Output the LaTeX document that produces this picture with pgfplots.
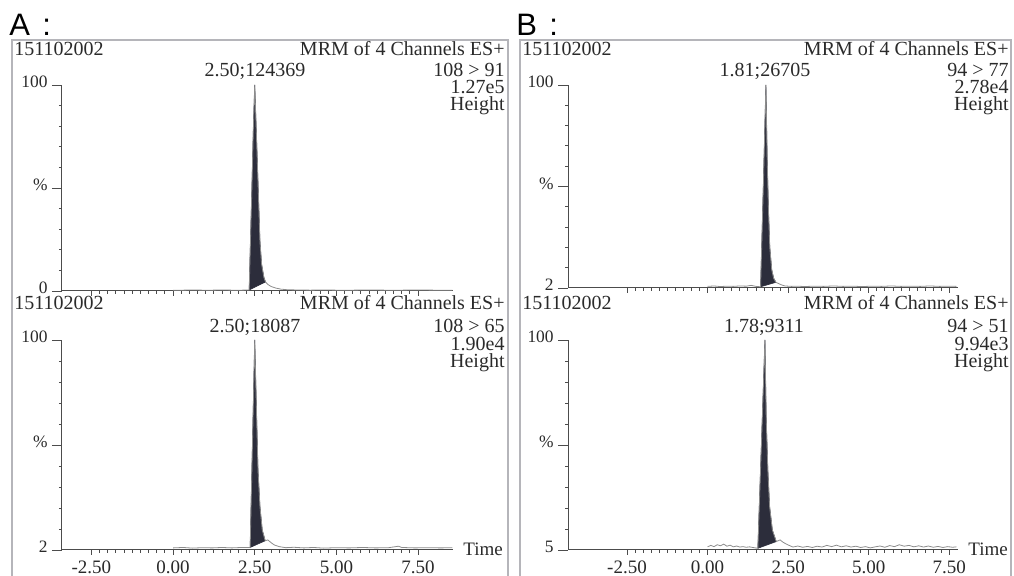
\documentclass[border=0pt]{standalone}
\usepackage{pgfplots}
\pgfplotsset{compat=1.18}
\usepackage{fontspec}
\setmainfont{Liberation Serif}
\newfontfamily\sansf{Liberation Sans}
\definecolor{peak}{HTML}{2C2D3B}
\definecolor{trace}{HTML}{8C8C8C}
\definecolor{txt}{HTML}{2A2A2A}
\definecolor{framec}{HTML}{B5B5BA}
\pgfplotsset{chrom/.style={
  scale only axis, clip=false,
  axis x line*=bottom, axis y line*=left,
  axis line style={-, black!70, line width=0.5pt},
  every tick/.style={black!70, line width=0.4pt},
  tick align=outside,
  major tick length=2.5pt, minor tick length=1.5pt,
  xtick={-2.5,0,2.5,5,7.5}, minor x tick num=9,
  ytick={0,50,100}, yticklabels={}, minor y tick num=4,
  extra y ticks={0,50,100},
  extra y tick style={major tick length=5pt},
  ymin=0, ymax=100,
  xticklabel style={font=\fontsize{9.5}{11}\selectfont, text=txt, inner sep=2.5pt},
  yticklabel style={font=\fontsize{8.7}{10}\selectfont, text=txt, inner sep=2pt, yshift=1.5pt},
}}
\newcommand\tf{\fontsize{10}{12}\selectfont}
\begin{document}
\begin{tikzpicture}
\useasboundingbox (0,0) rectangle (507pt,-288pt);
% ---------- A top ----------
\begin{axis}[chrom, at={(31pt,-145.5pt)}, anchor=south west,
  width=195.5pt, height=103pt, xmin=-3.4, xmax=8.57,
  xticklabels={}, extra y tick labels={0,\%,100}]
\addplot[fill=peak, draw=peak, line width=0.3pt] coordinates {(2.33,0.5)(2.41,48)(2.46,80)(2.50,100)(2.56,72)(2.61,48)(2.66,24)(2.71,13)(2.78,6.6)(2.83,4.4)} -- cycle;
\addplot[trace, line width=0.4pt] coordinates {(0.00,0.4)(0.3,0.4)(0.6,0.5)(0.9,0.4)(1.2,0.4)(1.5,0.5)(1.8,0.4)(2.1,0.4)(2.33,0.5)(2.41,48)(2.46,80)(2.50,100)(2.56,72)(2.61,48)(2.66,24)(2.71,13)(2.78,6.6)(2.83,4.4)(2.9,3.2)(3.0,2.2)(3.15,1.4)(3.3,0.9)(3.5,0.6)(3.8,0.5)(4.2,0.4)(4.6,0.5)(5.0,0.4)(5.5,0.4)(6.0,0.5)(6.5,0.4)(7.0,0.4)(7.5,0.5)(8.0,0.4)(8.55,0.4)};
\end{axis}
% ---------- A bottom ----------
\begin{axis}[chrom, at={(31pt,-275pt)}, anchor=south west,
  width=195.5pt, height=105pt, xmin=-3.4, xmax=8.57,
  xticklabels={-2.50,0.00,2.50,5.00,7.50}, extra y tick labels={2,\%,100}]
\addplot[fill=peak, draw=peak, line width=0.3pt] coordinates {(2.36,1.2)(2.43,50)(2.50,100)(2.56,62)(2.60,38)(2.66,20.6)(2.73,9.5)(2.82,4.4)} -- cycle;
\addplot[trace, line width=0.4pt] coordinates {(0.0,1.0)(0.3,1.2)(0.6,0.9)(0.9,1.1)(1.2,1.0)(1.5,1.2)(1.8,1.0)(2.1,1.2)(2.36,1.2)(2.43,50)(2.50,100)(2.56,62)(2.60,38)(2.66,20.6)(2.73,9.5)(2.82,4.4)(2.9,4.8)(3.0,3.5)(3.1,2.4)(3.25,1.6)(3.45,1.1)(3.7,1.3)(4.0,1.0)(4.3,1.2)(4.6,0.9)(5.0,1.1)(5.4,1.0)(5.8,1.2)(6.2,1.0)(6.6,1.1)(6.9,1.8)(7.0,1.2)(7.4,1.0)(7.8,1.1)(8.2,1.0)(8.55,1.1)};
\end{axis}
% ---------- B top ----------
\begin{axis}[chrom, at={(284pt,-144pt)}, anchor=south west,
  width=195pt, height=101.5pt, xmin=-4.33, xmax=7.77,
  xticklabels={}, extra y tick labels={2,\%,100}]
\addplot[fill=peak, draw=peak, line width=0.3pt] coordinates {(1.645,0.6)(1.73,50)(1.81,100)(1.85,63)(1.89,38)(1.93,20)(1.99,9)(2.05,4.8)(2.12,2.8)} -- cycle;
\addplot[trace, line width=0.4pt] coordinates {(0.0,0.8)(0.2,1.0)(0.4,0.7)(0.6,0.9)(0.8,0.8)(1.0,1.0)(1.2,0.9)(1.35,1.3)(1.5,0.8)(1.645,0.6)(1.73,50)(1.81,100)(1.85,63)(1.89,38)(1.93,20)(1.99,9)(2.05,4.8)(2.12,2.8)(2.2,2.2)(2.3,1.5)(2.4,1.0)(2.6,0.8)(2.8,0.9)(3.0,0.7)(3.3,0.9)(3.6,0.8)(3.9,1.0)(4.2,0.8)(4.5,0.9)(4.8,0.7)(5.1,0.9)(5.4,0.8)(5.7,1.0)(6.0,0.8)(6.3,0.9)(6.6,0.8)(6.9,1.0)(7.2,0.8)(7.5,0.9)(7.72,0.8)};
\end{axis}
% ---------- B bottom ----------
\begin{axis}[chrom, at={(284pt,-275pt)}, anchor=south west,
  width=195pt, height=105pt, xmin=-4.33, xmax=7.77,
  xticklabels={-2.50,0.00,2.50,5.00,7.50}, extra y tick labels={5,\%,100}]
\addplot[fill=peak, draw=peak, line width=0.3pt] coordinates {(1.56,0.8)(1.67,50)(1.78,100)(1.82,62)(1.87,38)(1.925,20.6)(2.01,9.5)(2.13,4.0)} -- cycle;
\addplot[trace, line width=0.4pt] coordinates {(0.0,1.5)(0.1,2.2)(0.2,1.6)(0.3,2.5)(0.4,2.0)(0.5,2.8)(0.6,1.8)(0.7,2.3)(0.8,1.5)(0.9,1.9)(1.0,1.4)(1.1,1.6)(1.2,1.3)(1.3,1.5)(1.4,1.2)(1.56,0.8)(1.67,50)(1.78,100)(1.82,62)(1.87,38)(1.925,20.6)(2.01,9.5)(2.13,4.0)(2.25,4.8)(2.35,3.6)(2.5,2.4)(2.65,1.4)(2.8,1.9)(2.95,1.3)(3.1,1.7)(3.25,1.2)(3.4,1.8)(3.55,1.4)(3.7,2.2)(3.85,1.6)(4.0,2.3)(4.15,1.5)(4.3,2.0)(4.45,1.4)(4.6,1.8)(4.75,1.2)(4.9,1.6)(5.05,1.0)(5.2,1.5)(5.35,1.9)(5.5,1.3)(5.65,2.1)(5.8,1.6)(5.95,2.5)(6.1,1.8)(6.25,2.2)(6.4,1.5)(6.55,2.0)(6.7,1.4)(6.85,1.9)(7.0,1.3)(7.15,1.7)(7.3,1.2)(7.45,1.6)(7.6,1.3)(7.72,1.5)};
\end{axis}
% ---------- text and frames ----------
\begin{scope}[x=0.5pt, y=-0.5pt, every node/.style={inner sep=0pt, text=txt, font=\tf}]
\draw[framec, line width=0.6pt] (12,578) -- (12,40) -- (508,40) -- (508,578);
\draw[framec, line width=0.6pt] (520,578) -- (520,40) -- (1011,40) -- (1011,578);
\node[anchor=base west, font=\sansf\fontsize{15.5}{18}\selectfont, text=black] at (9,35.5) {A\hspace{0.4em}:};
\node[anchor=base west, font=\sansf\fontsize{15.5}{18}\selectfont, text=black] at (516,35.5) {B\hspace{0.4em}:};
% A top
\node[anchor=base west] at (14,56) {151102002};
\node[anchor=base east] at (505,56) {MRM of 4 Channels ES+};
\node[anchor=base] at (255,77) {2.50;124369};
\node[anchor=base east] at (505,77) {108 > 91};
\node[anchor=base east] at (505,94) {1.27e5};
\node[anchor=base east] at (505,111) {Height};
% A bottom
\node[anchor=base west] at (14,310) {151102002};
\node[anchor=base east] at (505,310) {MRM of 4 Channels ES+};
\node[anchor=base] at (255,333) {2.50;18087};
\node[anchor=base east] at (505,333) {108 > 65};
\node[anchor=base east] at (505,351) {1.90e4};
\node[anchor=base east] at (505,368) {Height};
\node[anchor=west, font=\fontsize{9.5}{11}\selectfont] at (463,549) {Time};
% B top
\node[anchor=base west] at (522,56) {151102002};
\node[anchor=base east] at (1009,56) {MRM of 4 Channels ES+};
\node[anchor=base] at (765,77) {1.81;26705};
\node[anchor=base east] at (1009,77) {94 > 77};
\node[anchor=base east] at (1009,94) {2.78e4};
\node[anchor=base east] at (1009,111) {Height};
% B bottom
\node[anchor=base west] at (522,310) {151102002};
\node[anchor=base east] at (1009,310) {MRM of 4 Channels ES+};
\node[anchor=base] at (764,333) {1.78;9311};
\node[anchor=base east] at (1009,333) {94 > 51};
\node[anchor=base east] at (1009,351) {9.94e3};
\node[anchor=base east] at (1009,368) {Height};
\node[anchor=west, font=\fontsize{9.5}{11}\selectfont] at (968,549) {Time};
\end{scope}
\end{tikzpicture}
\end{document}
